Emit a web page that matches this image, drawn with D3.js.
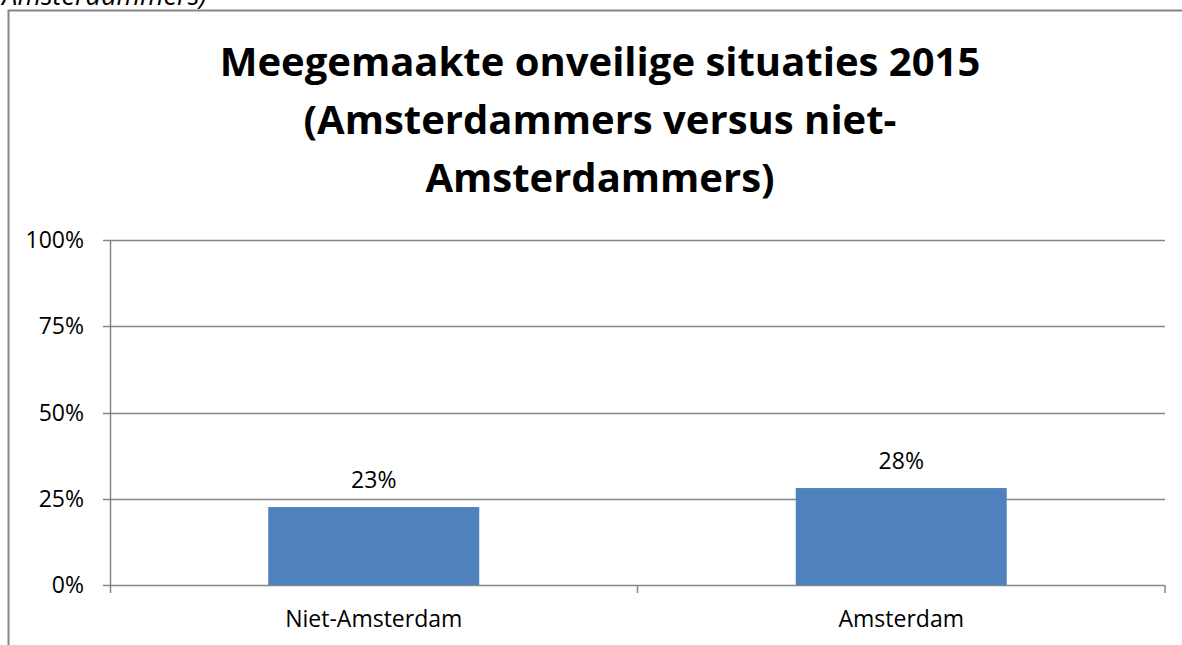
<!DOCTYPE html>
<html>
<head>
<meta charset="utf-8">
<script src="https://cdn.jsdelivr.net/npm/d3@7"></script>
<style>
  body { margin: 0; background: #fff; }
  svg { display: block; font-family: "Open Sans", Lato, sans-serif; }
</style>
</head>
<body>
<div id="chart"></div>
<script>
const width = 1182;
const height = 645;

// data
const categories = ["Niet-Amsterdam", "Amsterdam"];
const values = [0.226, 0.281];
const valueLabels = ["23%", "28%"];
const yTicks = [0, 0.25, 0.5, 0.75, 1];
const titleLines = ["Meegemaakte onveilige situaties 2015", "(Amsterdammers versus niet-", "Amsterdammers)"];

const margin = { left: 110, right: 17, top: 240, bottom: 60 };

const svg = d3.select("#chart")
  .append("svg")
  .attr("width", width)
  .attr("height", height);

// leftover caption text from the page above the chart (cut off at the top)
svg.append("text")
  .attr("x", 207)
  .attr("y", 5)
  .attr("text-anchor", "end")
  .style("font-style", "italic")
  .style("font-size", "27px")
  .text("Amsterdammers)");

// chart border (right and bottom edges fall outside the view)
svg.append("rect")
  .attr("x", 8.5)
  .attr("y", 10.5)
  .attr("width", 1300)
  .attr("height", 800)
  .attr("fill", "#fff")
  .attr("stroke", "#868686")
  .attr("stroke-width", 2);

const x = d3.scaleBand()
  .domain(categories)
  .range([margin.left, width - margin.right])
  .padding(0);

const y = d3.scaleLinear()
  .domain([0, 1])
  .range([585, margin.top]);

// title
svg.append("g")
  .selectAll("text")
  .data(titleLines)
  .enter().append("text")
  .attr("x", 600)
  .attr("y", (d, i) => 76 + i * 58)
  .attr("text-anchor", "middle")
  .style("font-weight", "bold")
  .style("font-size", "40px")
  .text(d => d);

// gridlines
svg.append("g")
  .selectAll("line")
  .data(yTicks)
  .enter().append("line")
  .attr("x1", margin.left - 7)
  .attr("x2", width - margin.right)
  .attr("y1", d => Math.round(y(d)) + 0.5)
  .attr("y2", d => Math.round(y(d)) + 0.5)
  .attr("stroke", "#868686")
  .attr("stroke-width", 1.5);

// y axis line
svg.append("line")
  .attr("x1", margin.left + 0.5)
  .attr("x2", margin.left + 0.5)
  .attr("y1", y(1))
  .attr("y2", y(0) + 8)
  .attr("stroke", "#868686")
  .attr("stroke-width", 1.5);

// y labels
svg.append("g")
  .selectAll("text")
  .data(yTicks)
  .enter().append("text")
  .attr("x", 84)
  .attr("y", d => y(d) + 8)
  .attr("text-anchor", "end")
  .style("font-size", "23px")
  .text(d => d3.format(".0%")(d));

// x category ticks at band edges
const edges = categories.map(c => x(c)).concat([x(categories[categories.length - 1]) + x.bandwidth()]);
svg.append("g")
  .selectAll("line")
  .data(edges.slice(1))
  .enter().append("line")
  .attr("x1", d => d)
  .attr("x2", d => d)
  .attr("y1", y(0))
  .attr("y2", y(0) + 8)
  .attr("stroke", "#868686")
  .attr("stroke-width", 1.5);

// bars
const barW = x.bandwidth() * 0.4;
svg.append("g")
  .selectAll("rect")
  .data(categories)
  .enter().append("rect")
  .attr("x", d => x(d) + (x.bandwidth() - barW) / 2)
  .attr("y", (d, i) => y(values[i]))
  .attr("width", barW)
  .attr("height", (d, i) => y(0) - y(values[i]))
  .attr("fill", "#4F81BD");

// value labels
svg.append("g")
  .selectAll("text")
  .data(categories)
  .enter().append("text")
  .attr("x", d => x(d) + x.bandwidth() / 2)
  .attr("y", (d, i) => y(values[i]) - 19)
  .attr("text-anchor", "middle")
  .style("font-size", "23px")
  .text((d, i) => valueLabels[i]);

// category labels
svg.append("g")
  .selectAll("text")
  .data(categories)
  .enter().append("text")
  .attr("x", d => x(d) + x.bandwidth() / 2)
  .attr("y", 627)
  .attr("text-anchor", "middle")
  .style("font-size", "23px")
  .text(d => d);
</script>
</body>
</html>
